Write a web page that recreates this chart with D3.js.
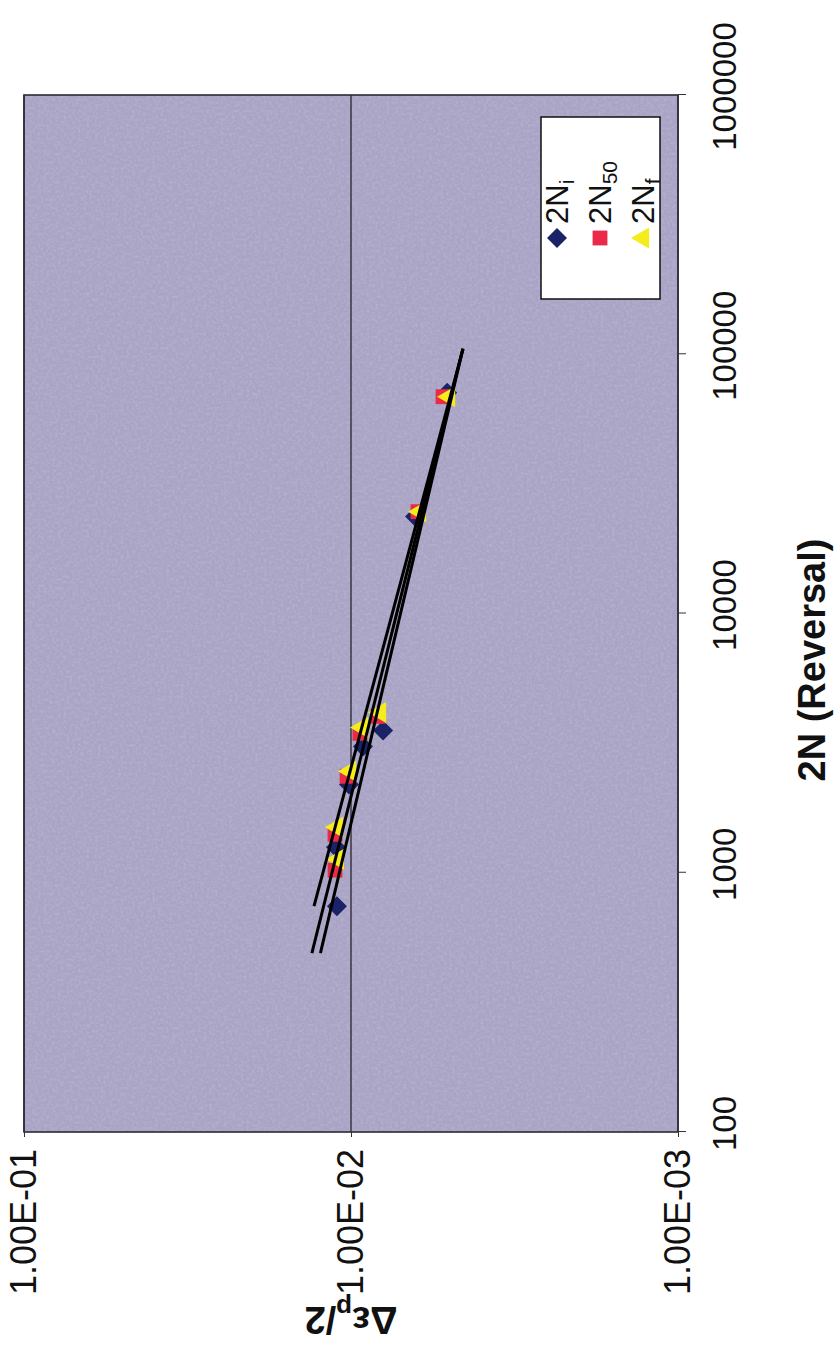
<!DOCTYPE html>
<html>
<head>
<meta charset="utf-8">
<script src="https://cdn.jsdelivr.net/npm/d3@7"></script>
<style>
body{margin:0;background:#fff;}
svg text{font-family:Arial,"Liberation Sans",sans-serif;fill:#111;}
</style>
</head>
<body>
<script>
//tick values on both axes
var reversalTicks = [100, 1000, 10000, 100000, 1000000];
var strainTicks = [0.1, 0.01, 0.001];

//2N_i series (blue diamonds)
var niReversals = [743, 1254, 2190, 3070, 3540, 23650, 71100];
var niStrain = [0.01104, 0.01112, 0.01014, 0.00919, 0.00798, 0.00637, 0.00508];

//2N_50 series (red squares)
var n50Reversals = [1023, 1407, 2355, 3449, 4010, 24700, 68600];
var n50Strain = [0.01119, 0.01119, 0.01028, 0.00939, 0.00827, 0.00624, 0.00523];

//2N_f series (yellow triangles)
var nfReversals = [1127, 1497, 2462, 3636, 4152, 24700, 68600];
var nfStrain = [0.01096, 0.01104, 0.01007, 0.00925, 0.00815, 0.00615, 0.00501];

//power trendlines  strain = coef * N^exp, drawn between from and to
var seriesSubs = ["i", "50", "f"];
var trendCoef = [0.0395, 0.0449, 0.0527];
var trendExp = [-0.187, -0.198, -0.212];
var trendFrom = [490, 490, 743];
var trendTo = [105000, 105000, 105000];

(function(){

var colors = ["#1b2368", "#ea2a48", "#f5ec1c"];
var shapes = [
	{type: d3.symbolSquare, size: 200, rot: 45},
	{type: d3.symbolSquare, size: 220, rot: 0},
	{type: d3.symbolTriangle, size: 190, rot: 0}
];
var series = [
	{n: niReversals, s: niStrain},
	{n: n50Reversals, s: n50Strain},
	{n: nfReversals, s: nfStrain}
];

//the whole chart is drawn turned a quarter turn, like the scan
var left = 24, bottom = 1132,
	W = 1037,   //length of the 2N axis
	H = 654;    //length of the strain axis

var svg = d3.select("body").append("svg")
	.attr("width", 836)
	.attr("height", 1355);

//light speckle like the scanned page
var defs = svg.append("defs");
var grain = defs.append("filter").attr("id", "grain")
	.attr("x", 0).attr("y", 0).attr("width", 1).attr("height", 1);
grain.append("feTurbulence")
	.attr("type", "fractalNoise")
	.attr("baseFrequency", 0.35)
	.attr("numOctaves", 2)
	.attr("seed", 4);
grain.append("feColorMatrix")
	.attr("type", "matrix")
	.attr("values", "0 0 0 0 1  0 0 0 0 1  0 0 0 0 1  0.5 0 0 0 -0.2");

var frame = svg.append("g")
	.attr("transform", "translate(" + left + "," + bottom + ") rotate(-90)");

var x = d3.scaleLog().domain([100, 1000000]).range([0, W]);
var y = d3.scaleLog().domain([0.001, 0.1]).range([H, 0]);

//plot background
frame.append("rect")
	.attr("width", W)
	.attr("height", H)
	.attr("fill", "#a9a4c5");
frame.append("rect")
	.attr("width", W)
	.attr("height", H)
	.attr("filter", "url(#grain)")
	.attr("opacity", 0.6);

//gridline at 1e-2
frame.selectAll(".grid")
	.data(strainTicks)
	.enter()
	.append("line")
	.attr("x1", 0).attr("x2", W)
	.attr("y1", function(d){ return y(d); })
	.attr("y2", function(d){ return y(d); })
	.attr("stroke", "#1a1a22")
	.attr("stroke-width", 1.2);

//frame border
frame.append("rect")
	.attr("width", W)
	.attr("height", H)
	.attr("fill", "none")
	.attr("stroke", "#2a2a38")
	.attr("stroke-width", 1.6);

//2N axis
var xAxis = frame.append("g")
	.attr("transform", "translate(0," + H + ")")
	.call(d3.axisBottom(x).tickValues(reversalTicks).tickFormat(d3.format("d")).tickSize(8).tickPadding(27));
xAxis.select(".domain").remove();
xAxis.selectAll(".tick line").attr("stroke", "#333");
xAxis.selectAll(".tick text")
	.attr("font-size", 33)
	.attr("font-family", "Arial,'Liberation Sans',sans-serif")
	.attr("fill", "#111")
	.attr("x", function(d){
		var len = this.getComputedTextLength();
		var maxEnd = (bottom - 7) - x(d);
		return Math.min(8, maxEnd - len / 2);
	});

//strain axis
function sciFormat(d){
	var e = Math.round(Math.log10(d));
	var m = d / Math.pow(10, e);
	var sign = e < 0 ? "-" : "+";
	var ex = Math.abs(e);
	return m.toFixed(2) + "E" + sign + (ex < 10 ? "0" + ex : ex);
}
var yAxis = frame.append("g")
	.call(d3.axisLeft(y).tickValues(strainTicks).tickFormat(sciFormat).tickSize(5).tickPadding(12));
yAxis.select(".domain").remove();
yAxis.selectAll(".tick line").attr("stroke", "#333");
yAxis.selectAll(".tick text")
	.attr("font-size", 36)
	.attr("font-family", "Arial,'Liberation Sans',sans-serif")
	.attr("fill", "#111");

//markers
series.forEach(function(sr, k){
	var sym = d3.symbol().type(shapes[k].type).size(shapes[k].size);
	frame.selectAll(".pt" + k)
		.data(sr.n)
		.enter()
		.append("path")
		.attr("class", "pt" + k)
		.attr("d", sym)
		.attr("fill", colors[k])
		.attr("transform", function(d, i){
			return "translate(" + x(d) + "," + y(sr.s[i]) + ") rotate(" + shapes[k].rot + ")";
		});
});

//trendlines on top
var line = d3.line()
	.x(function(d){ return x(d[0]); })
	.y(function(d){ return y(d[1]); });
trendCoef.forEach(function(c, k){
	var pts = [trendFrom[k], trendTo[k]].map(function(n){
		return [n, c * Math.pow(n, trendExp[k])];
	});
	frame.append("path")
		.attr("d", line(pts))
		.attr("fill", "none")
		.attr("stroke", "#000")
		.attr("stroke-width", 3);
});

//legend, entries centred in a wide box
var legend = frame.append("g").attr("transform", "translate(833,517)");
legend.append("rect")
	.attr("width", 182)
	.attr("height", 119)
	.attr("fill", "#fff")
	.attr("stroke", "#111")
	.attr("stroke-width", 1.5);
seriesSubs.forEach(function(sub, k){
	var ly = 16 + k * 43;
	legend.append("path")
		.attr("d", d3.symbol().type(shapes[k].type).size(shapes[k].size)())
		.attr("fill", colors[k])
		.attr("transform", "translate(61," + ly + ") rotate(" + shapes[k].rot + ")");
	var t = legend.append("text")
		.attr("x", 75)
		.attr("y", ly + 11)
		.attr("font-size", 31);
	t.append("tspan").text("2N");
	t.append("tspan").attr("font-size", 21).attr("dy", 6).text(sub);
});

//axis titles
frame.append("text")
	.attr("x", bottom - 660)
	.attr("y", 812 - left + 13)
	.attr("text-anchor", "middle")
	.attr("font-size", 38)
	.attr("font-weight", "bold")
	.text("2N (Reversal)");

var yt = frame.append("text")
	.attr("transform", "translate(" + (bottom - 1320 + 13) + "," + (H / 2) + ") rotate(-90)")
	.attr("text-anchor", "middle")
	.attr("font-size", 38)
	.attr("font-weight", "bold");
yt.append("tspan").text("\u0394\u03b5");
yt.append("tspan").attr("font-size", 26).attr("dy", 8).text("p");
yt.append("tspan").attr("dy", -8).text("/2");

})();
</script>
</body>
</html>
